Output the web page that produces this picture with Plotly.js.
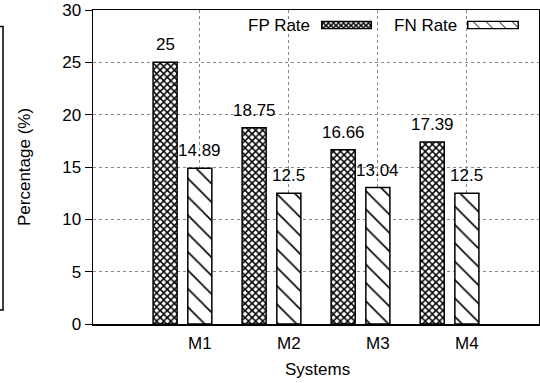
<!DOCTYPE html>
<html>
<head>
<meta charset="utf-8">
<script src="https://cdn.plot.ly/plotly-3.0.1.min.js"></script>
<style>html,body{margin:0;padding:0;background:#fff;}#chart{width:540px;height:383px;}</style>
</head>
<body>
<div id="chart"></div>
<script>
// ---- data ----
const categories = ["M1", "M2", "M3", "M4"];
const fpRate = [25, 18.75, 16.66, 17.39];
const fnRate = [14.89, 12.5, 13.04, 12.5];
const seriesNames = ["FP Rate", "FN Rate"];
const yTicks = [0, 5, 10, 15, 20, 25, 30];

// ---- layout constants ----
const W = 540, H = 383;
const L = 93, R = 539, T = 10, B = 324;
const FONT = "Liberation Sans, Arial, Helvetica, sans-serif";
const FS = 17;
const barW = 0.27, fpShift = -0.39;
const px2x = p => (p - L) / (R - L);
const px2y = p => (B - p) / (B - T);

const fpTrace = {
  type: "bar", name: seriesNames[0], x: categories, y: fpRate,
  width: barW, offset: fpShift - barW / 2,
  marker: {color: "white", line: {color: "black", width: 1.5},
    pattern: {shape: "x", size: 5, solidity: 0.5, fgcolor: "black", fgopacity: 1, bgcolor: "white", fillmode: "replace"}},
  hoverinfo: "skip", showlegend: false
};
const fnTrace = {
  type: "bar", name: seriesNames[1], x: categories, y: fnRate,
  width: barW, offset: -barW / 2,
  marker: {color: "white", line: {color: "black", width: 1.5},
    pattern: {shape: "\\", size: 13, solidity: 0.12, fgcolor: "black", fgopacity: 1, bgcolor: "white", fillmode: "replace"}},
  hoverinfo: "skip", showlegend: false
};

const annotations = [];
fpRate.forEach((v, i) => annotations.push({x: i + fpShift, y: v, xref: "x", yref: "y", text: String(v),
  showarrow: false, yanchor: "middle", yshift: 17.5, font: {family: FONT, size: FS, color: "black"}}));
fnRate.forEach((v, i) => annotations.push({x: i, y: v, xref: "x", yref: "y", text: String(v),
  showarrow: false, yanchor: "middle", yshift: 17.5, font: {family: FONT, size: FS, color: "black"}}));
// axis titles
annotations.push({xref: "paper", yref: "paper", x: px2x(24), y: 0.5, text: "Percentage (%)", textangle: -90,
  showarrow: false, xanchor: "center", yanchor: "middle", font: {family: FONT, size: FS, color: "black"}});
annotations.push({xref: "paper", yref: "paper", x: px2x(317), y: px2y(369), text: "Systems",
  showarrow: false, xanchor: "center", yanchor: "middle", font: {family: FONT, size: FS, color: "black"}});
// legend texts
annotations.push({xref: "paper", yref: "paper", x: px2x(312), y: px2y(26), text: seriesNames[0],
  showarrow: false, xanchor: "right", yanchor: "middle", font: {family: FONT, size: FS, color: "black"}});
annotations.push({xref: "paper", yref: "paper", x: px2x(459), y: px2y(26), text: seriesNames[1],
  showarrow: false, xanchor: "right", yanchor: "middle", font: {family: FONT, size: FS, color: "black"}});

function svgUri(s) { return "data:image/svg+xml;charset=utf-8," + encodeURIComponent(s); }
const fpSample = svgUri("<svg xmlns='http://www.w3.org/2000/svg' width='51' height='9' viewBox='0 0 51 9'>" +
  "<defs><pattern id='p' width='5' height='5' patternUnits='userSpaceOnUse'><path d='M0,0L5,5M5,0L0,5M-1,4L1,6M4,-1L6,1M4,6L6,4M-1,1L1,-1' stroke='black' stroke-width='1.5'/></pattern></defs>" +
  "<rect x='0.75' y='0.75' width='49.5' height='7.5' fill='white'/><rect x='0.75' y='0.75' width='49.5' height='7.5' fill='url(#p)' stroke='black' stroke-width='1.5'/></svg>");
const fnSample = svgUri("<svg xmlns='http://www.w3.org/2000/svg' width='52' height='9' viewBox='0 0 52 9'>" +
  "<rect x='0.75' y='0.75' width='50.5' height='7.5' fill='white' stroke='black' stroke-width='1.5'/>" +
  "<path d='M6,1L13,8M19,1L26,8M32,1L39,8M45,1L51,7' stroke='black' stroke-width='1'/></svg>");

const layout = {
  width: W, height: H,
  margin: {l: L, r: W - R, t: T, b: H - B, pad: 0},
  paper_bgcolor: "white", plot_bgcolor: "white",
  font: {family: FONT, size: FS, color: "black"},
  showlegend: false,
  barmode: "overlay",
  xaxis: {
    type: "category", range: [-1.2, 3.81], fixedrange: true,
    showline: true, linecolor: "black", linewidth: 1.5, mirror: true,
    ticks: "", ticklabelstandoff: 3, showgrid: true, gridcolor: "#888", griddash: "dot", gridwidth: 1,
    tickfont: {family: FONT, size: FS, color: "black"}, zeroline: false
  },
  yaxis: {
    range: [0, 30], tickvals: yTicks, fixedrange: true,
    showline: true, linecolor: "black", linewidth: 1.5, mirror: true,
    ticks: "outside", ticklen: 7, tickwidth: 1, tickcolor: "black",
    showgrid: true, gridcolor: "#888", griddash: "dot", gridwidth: 1,
    tickfont: {family: FONT, size: FS, color: "black"}, zeroline: false
  },
  annotations: annotations,
  images: [
    {source: fpSample, xref: "paper", yref: "paper", x: px2x(321), y: px2y(20.5), sizex: 51 / (R - L), sizey: 9 / (B - T),
     sizing: "stretch", xanchor: "left", yanchor: "top", layer: "above"},
    {source: fnSample, xref: "paper", yref: "paper", x: px2x(467), y: px2y(20.5), sizex: 52 / (R - L), sizey: 9 / (B - T),
     sizing: "stretch", xanchor: "left", yanchor: "top", layer: "above"}
  ],
  shapes: [
    {type: "path", xref: "paper", yref: "paper", layer: "above",
     path: "M" + px2x(0) + "," + px2y(26.5) + " L" + px2x(3) + "," + px2y(26.5) + " L" + px2x(3) + "," + px2y(310) + " L" + px2x(0) + "," + px2y(310),
     line: {color: "black", width: 1.5}}
  ]
};

Plotly.newPlot("chart", [fpTrace, fnTrace], layout, {displayModeBar: false, staticPlot: true});
</script>
</body>
</html>
